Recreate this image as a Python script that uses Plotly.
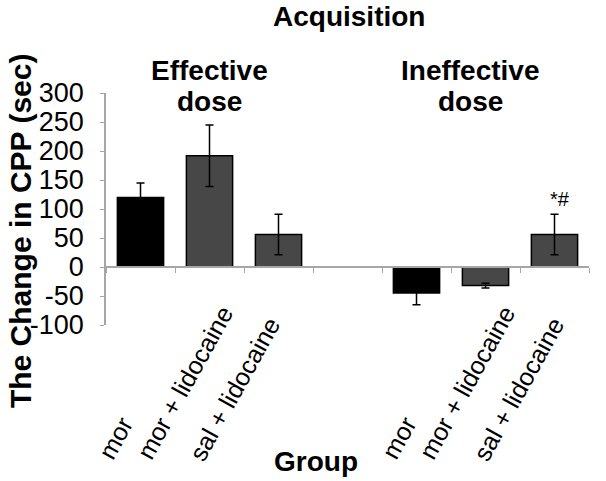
import plotly.graph_objects as go

# ---- data ----
categories = ["mor", "mor + lidocaine", "sal + lidocaine", "",
              "mor", "mor + lidocaine", "sal + lidocaine"]
values = [120, 192, 56, None, -45, -32, 56]
errors = [25, 53, 35, None, 20, 4, 35]
bar_colors = ["#000000", "#474747", "#474747", "#ffffff",
              "#000000", "#474747", "#474747"]
y_ticks = [-100, -50, 0, 50, 100, 150, 200, 250, 300]

FONT = "Liberation Sans, Arial, sans-serif"
xs = list(range(len(categories)))

fig = go.Figure()
fig.add_trace(go.Bar(
    x=[x for x, v in zip(xs, values) if v is not None],
    y=[v for v in values if v is not None],
    width=0.67,
    marker=dict(color=[c for c, v in zip(bar_colors, values) if v is not None],
                line=dict(color="#000000", width=1.5)),
    error_y=dict(type="data",
                 array=[e for e in errors if e is not None],
                 color="#000000", thickness=1.5, width=4),
    showlegend=False,
))

# rotated category labels (placed like the original, bottom-aligned)
label_shift = [-25, -25, -44, 0, -18, -19, -36]
label_y = [-0.487, -0.25, -0.276, 0, -0.485, -0.25, -0.276]
for x, lab, dx, yy in zip(xs, categories, label_shift, label_y):
    if not lab:
        continue
    fig.add_annotation(x=x, xref="x", y=yy, yref="paper", text=lab,
                       textangle=-61, showarrow=False, xshift=dx,
                       xanchor="center", yanchor="middle",
                       font=dict(family=FONT, size=25, color="#000000"))

# significance marker
fig.add_annotation(x=6, y=values[6] + errors[6], xref="x", yref="y",
                   text="*#", showarrow=False, yanchor="bottom",
                   xshift=5, yshift=2,
                   font=dict(family=FONT, size=20, color="#000000"))

bold = dict(family=FONT, size=28, color="#000000")
def label(x, y, text, **kw):
    fig.add_annotation(x=x, y=y, xref="paper", yref="paper",
                       text="<b>" + text + "</b>", showarrow=False,
                       xanchor="center", yanchor="middle",
                       font=kw.pop("font", bold), **kw)

label(0.503, 1.328, "Acquisition")
label(0.215, 1.095, "Effective")
label(0.215, 0.962, "dose")
label(0.754, 1.095, "Ineffective")
label(0.754, 0.962, "dose")
label(0.435, -0.59, "Group")
label(-0.178, 0.405, "The Change in CPP (sec)", textangle=-90,
      font=dict(family=FONT, size=30, color="#000000"))

fig.update_layout(
    width=606, height=481,
    margin=dict(l=106, r=17, t=93, b=156),
    paper_bgcolor="#ffffff", plot_bgcolor="#ffffff",
    xaxis=dict(range=[-0.5, 6.5], anchor="free", position=0.25,
               tickmode="array",
               tickvals=[x - 0.5 for x in xs] + [6.5],
               showticklabels=False, ticks="outside", ticklen=5,
               tickcolor="#a6a6a6", showline=True, linecolor="#a6a6a6",
               linewidth=1.5, showgrid=False, zeroline=False),
    yaxis=dict(range=[-100, 300], tickmode="array", tickvals=y_ticks,
               ticktext=[str(t) for t in y_ticks],
               ticks="outside", ticklen=4, tickcolor="#a6a6a6",
               showline=True, linecolor="#a6a6a6", linewidth=1.5,
               showgrid=False, zeroline=False, ticklabelstandoff=11,
               tickfont=dict(family=FONT, size=27, color="#000000")),
)

# remove the default page margin so the figure fills the window exactly
fig.write_html("out.html",
               config={"displayModeBar": False},
               post_script="document.body.style.margin='0';"
                           "document.body.style.overflow='hidden';")
